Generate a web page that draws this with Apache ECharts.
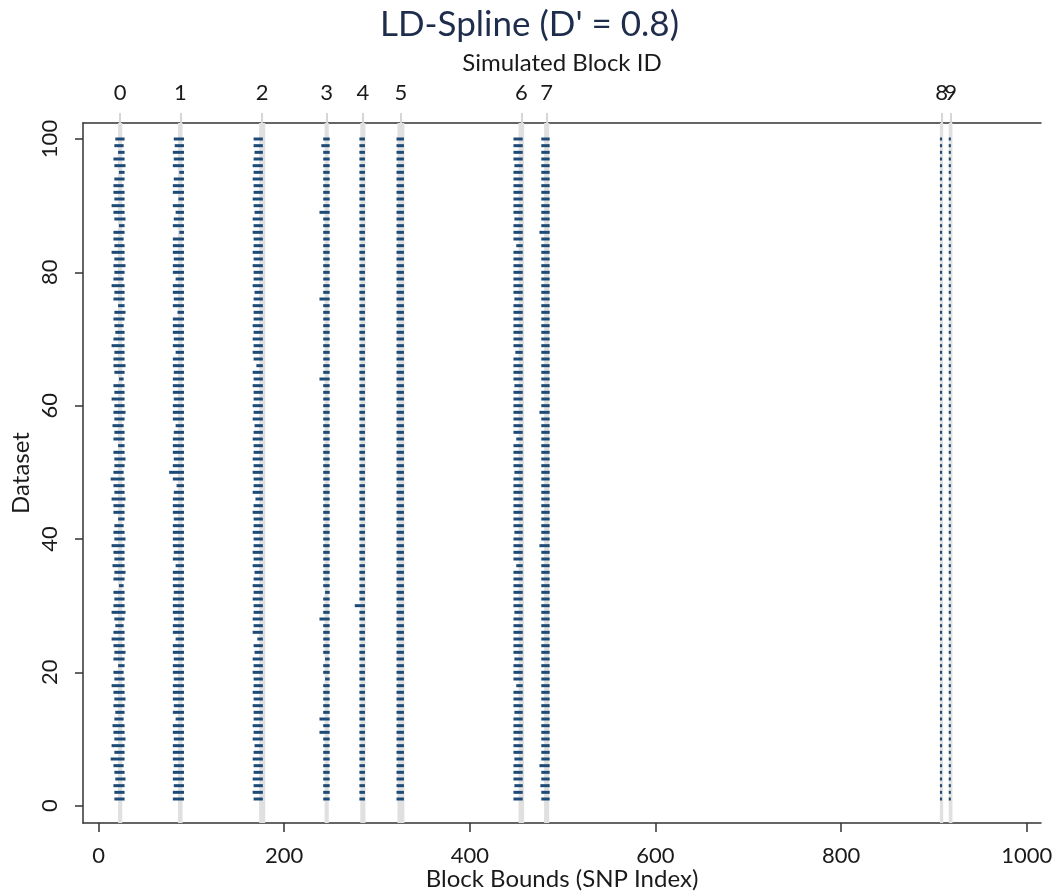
<!DOCTYPE html>
<html>
<head>
<meta charset="utf-8">
<title>LD-Spline (D' = 0.8)</title>
<script src="https://cdn.jsdelivr.net/npm/echarts@6/dist/echarts.min.js"></script>
<style>
  html, body { margin: 0; padding: 0; background: #ffffff; }
  #chart { width: 1059px; height: 892px; }
</style>
</head>
<body>
<div id="chart"></div>
<script>
// Simulated blocks: ID, true boundary band (SNP index) and label position
const blockIds = ['0', '1', '2', '3', '4', '5', '6', '7', '8', '9'];
const blockCenters = [23.3, 88, 176.3, 245.8, 284.8, 325.8, 455.5, 482.8, 908.3, 918];
const bandLo = [21, 85.5, 173, 243.5, 282, 322, 452.5, 480, 906.5, 916];
const bandHi = [25.5, 90.5, 179.5, 248, 287.5, 329.5, 458.5, 485.5, 910, 920];

// Axis ticks
const xTicks = [0, 200, 400, 600, 800, 1000];
const yTicks = [0, 20, 40, 60, 80, 100];

// Datasets 1..100
const datasets = [
  1,2,3,4,5,6,7,8,9,10,11,12,13,14,15,16,17,18,19,20,
  21,22,23,24,25,26,27,28,29,30,31,32,33,34,35,36,37,38,39,40,
  41,42,43,44,45,46,47,48,49,50,51,52,53,54,55,56,57,58,59,60,
  61,62,63,64,65,66,67,68,69,70,71,72,73,74,75,76,77,78,79,80,
  81,82,83,84,85,86,87,88,89,90,91,92,93,94,95,96,97,98,99,100
];

// Estimated block bounds per dataset (start / end SNP index), one pair of arrays per block
const start0 = [17,17,16,18,17,16,13,17,14,17, 16,15,17,18,16,17,16,14,17,16, 21,16,17,16,14,16,18,17,14,16, 17,16,22,16,17,15,17,16,14,17, 16,17,21,16,16,14,17,16,13,16, 17,17,16,21,16,17,15,17,16,17, 14,17,16,22,17,16,16,17,14,16, 18,17,16,17,21,16,17,14,16,17, 16,17,14,17,16,16,22,17,16,14, 17,16,16,17,22,17,16,21,17,18];
const end0   = [28,28,28,29,28,27,28,28,28,29, 28,28,27,28,28,29,28,28,28,27, 28,28,29,28,28,28,27,28,29,28, 28,28,27,28,29,28,28,28,28,29, 28,27,28,28,28,29,28,28,28,27, 28,29,28,28,28,28,27,28,29,28, 28,28,28,27,28,29,28,28,28,28, 28,27,28,29,28,28,28,28,27,28, 29,28,28,28,27,28,28,29,28,28, 28,28,27,28,28,29,28,28,27,28];

const start1 = [80,80,81,80,80,81,80,80,80,81, 80,80,83,80,81,80,80,80,81,80, 80,81,80,80,83,80,80,81,80,80, 80,81,80,80,80,83,80,81,80,80, 80,80,81,80,80,80,81,84,80,76, 80,81,80,80,80,81,83,80,80,80, 81,80,80,80,81,80,80,83,80,81, 80,80,80,85,80,81,80,80,83,80, 80,81,80,80,80,87,80,81,83,80, 86,80,80,81,87,80,81,80,82,81];
const end1   = [92,92,92,92,92,92,92,92,92,92, 92,92,92,92,92,92,92,92,92,92, 92,92,92,92,92,92,92,92,92,92, 92,92,92,92,92,92,92,92,92,92, 92,92,92,92,92,92,92,92,92,92, 92,92,92,92,92,92,92,92,92,92, 92,92,92,92,92,92,92,92,92,92, 92,92,92,92,92,92,92,92,92,92, 92,92,92,92,92,92,92,92,92,92, 92,92,92,92,92,92,92,92,92,92];

const start2 = [167,166,167,166,167,167,166,167,168,166, 167,166,167,167,166,167,166,167,167,166, 167,166,168,167,171,166,167,166,167,167, 166,167,166,167,168,166,167,166,167,167, 166,167,167,166,167,169,166,167,167,166, 167,166,167,167,166,167,168,166,167,166, 167,167,166,167,166,170,167,166,167,166, 167,166,167,167,166,167,168,166,167,167, 166,167,166,167,167,166,167,166,168,167, 166,167,167,166,167,166,167,168,167,167];
const end2   = [177,177,177,177,177,177,177,177,177,177, 177,177,177,177,177,177,177,177,177,177, 177,177,177,177,177,177,177,177,177,177, 177,177,177,177,177,177,177,177,177,177, 177,177,177,177,177,177,177,177,177,177, 177,177,177,177,177,177,177,177,177,177, 177,177,177,177,177,177,177,177,177,177, 177,177,177,177,177,177,177,177,177,177, 177,177,177,177,177,177,177,177,177,177, 177,177,177,177,177,177,177,177,177,177];

const start3 = [242,242,242,242,242,242,242,242,242,242, 238,242,238,242,242,242,242,242,244,242, 242,244,242,242,242,242,242,238,242,242, 242,244,242,242,242,242,242,242,242,242, 242,242,242,242,242,242,242,242,242,242, 242,242,242,242,242,242,242,242,242,242, 242,242,242,238,242,242,242,242,242,242, 242,242,242,242,242,238,242,242,242,242, 242,242,242,242,242,242,242,242,238,242, 242,242,242,242,242,242,242,242,240,242];
const end3   = [249,249,249,249,249,249,249,249,249,249, 249,249,249,249,249,249,249,249,249,249, 249,249,249,249,249,249,249,249,249,249, 249,249,249,249,249,249,249,249,249,249, 249,249,249,249,249,249,249,249,249,249, 249,249,249,249,249,249,249,249,249,249, 249,249,249,249,249,249,249,249,249,249, 249,249,249,249,249,249,249,249,249,249, 249,249,249,249,249,249,249,249,249,249, 249,249,249,249,249,249,249,249,249,249];

const start4 = [281,281,281,281,281,281,281,281,281,281, 281,281,281,281,281,281,281,281,281,281, 281,281,281,281,281,281,281,281,281,276, 281,281,281,281,281,281,281,281,281,281, 281,281,281,281,281,281,281,281,281,281, 281,281,281,281,281,281,281,281,281,281, 281,281,281,281,281,281,281,281,281,281, 281,281,281,281,281,281,281,281,281,281, 281,281,281,281,281,281,281,281,281,281, 281,281,281,281,281,281,281,281,281,281];
const end4   = [287,287,287,287,287,287,287,287,287,287, 287,287,287,287,287,287,287,287,287,287, 287,287,287,287,287,287,287,287,287,287, 287,287,287,287,287,287,287,287,287,287, 287,287,287,287,287,287,287,287,287,287, 287,287,287,287,287,287,287,287,287,287, 287,287,287,287,287,287,287,287,287,287, 287,287,287,287,287,287,287,287,287,287, 287,287,287,287,287,287,287,287,287,287, 287,287,287,287,287,287,287,287,287,287];

const start5 = [321,321,321,321,321,321,321,321,321,321, 321,321,321,321,321,321,321,321,321,321, 321,321,321,321,321,321,321,321,321,321, 321,321,321,321,321,321,321,321,321,321, 321,321,321,321,321,321,321,321,321,321, 321,321,321,321,321,321,321,321,321,321, 321,321,321,321,321,321,321,321,321,321, 321,321,321,321,321,321,321,321,321,321, 321,321,321,321,321,321,321,321,321,321, 321,321,321,321,321,321,321,321,321,321];
const end5   = [329,329,329,329,329,329,329,329,329,329, 329,329,329,329,329,329,329,329,329,329, 329,329,329,329,329,329,329,329,329,329, 329,329,329,329,329,329,329,329,329,329, 329,329,329,329,329,329,329,329,329,329, 329,329,329,329,329,329,329,329,329,329, 329,329,329,329,329,329,329,329,329,329, 329,329,329,329,329,329,329,329,329,329, 329,329,329,329,329,329,329,329,329,329, 329,329,329,329,329,329,329,329,329,329];

const start6 = [447,447,448,447,447,447,448,447,447,447, 447,447,447,448,447,447,447,450,447,447, 447,448,447,447,447,447,447,447,448,447, 447,447,447,447,447,450,447,447,447,447, 448,447,447,447,447,447,447,447,447,448, 447,447,447,447,450,447,447,447,447,447, 447,447,448,447,447,447,447,449,447,447, 447,447,447,447,447,448,447,447,447,447, 447,447,447,450,447,447,447,448,447,447, 447,447,447,447,447,448,447,447,447,447];
const end6   = [457,457,457,457,457,457,457,457,457,457, 457,457,457,457,457,457,457,457,457,457, 457,457,457,457,457,457,457,457,457,457, 457,457,457,457,457,457,457,457,457,457, 457,457,457,457,457,457,457,457,457,457, 457,457,457,457,457,457,457,457,457,457, 457,457,457,457,457,457,457,457,457,457, 457,457,457,457,457,457,457,457,457,457, 457,457,457,457,457,457,457,457,457,457, 457,457,457,457,457,457,457,457,457,457];

const start7 = [477,477,476,477,477,475,477,477,477,477, 477,477,477,477,477,477,477,477,477,477, 477,477,477,477,477,477,477,477,477,477, 477,477,477,477,477,477,477,477,475,477, 477,477,477,477,477,477,477,477,477,477, 477,477,477,477,477,477,477,477,475,477, 477,477,477,477,477,477,477,477,477,477, 477,477,477,477,477,477,477,477,477,477, 477,477,477,477,477,475,477,477,477,477, 477,477,477,477,477,477,477,477,477,477];
const end7   = [486,486,486,486,486,486,486,486,486,486, 486,486,486,486,486,486,486,486,486,486, 486,486,486,486,486,486,486,486,486,486, 486,486,486,486,486,486,486,486,486,486, 486,486,486,486,486,486,486,486,486,486, 486,486,486,486,486,486,486,486,486,486, 486,486,486,486,486,486,486,486,486,486, 486,486,486,486,486,486,486,486,486,486, 486,486,486,486,486,486,486,486,486,486, 486,486,486,486,486,486,486,486,486,486];

const start8 = [906.5,906.5,906.5,906.5,906.5,906.5,906.5,906.5,906.5,906.5, 906.5,906.5,906.5,906.5,906.5,906.5,906.5,906.5,906.5,906.5, 906.5,906.5,906.5,906.5,906.5,906.5,906.5,906.5,906.5,906.5, 906.5,906.5,906.5,906.5,906.5,906.5,906.5,906.5,906.5,906.5, 906.5,906.5,906.5,906.5,906.5,906.5,906.5,906.5,906.5,906.5, 906.5,906.5,906.5,906.5,906.5,906.5,906.5,906.5,906.5,906.5, 906.5,906.5,906.5,906.5,906.5,906.5,906.5,906.5,906.5,906.5, 906.5,906.5,906.5,906.5,906.5,906.5,906.5,906.5,906.5,906.5, 906.5,906.5,906.5,906.5,906.5,906.5,906.5,906.5,906.5,906.5, 906.5,906.5,906.5,906.5,906.5,906.5,906.5,906.5,906.5,906.5];
const end8   = [908.8,908.8,908.8,908.8,908.8,908.8,908.8,908.8,908.8,908.8, 908.8,908.8,908.8,908.8,908.8,908.8,908.8,908.8,908.8,908.8, 908.8,908.8,908.8,908.8,908.8,908.8,908.8,908.8,908.8,908.8, 908.8,908.8,908.8,908.8,908.8,908.8,908.8,908.8,908.8,908.8, 908.8,908.8,908.8,908.8,908.8,908.8,908.8,908.8,908.8,908.8, 908.8,908.8,908.8,908.8,908.8,908.8,908.8,908.8,908.8,908.8, 908.8,908.8,908.8,908.8,908.8,908.8,908.8,908.8,908.8,908.8, 908.8,908.8,908.8,908.8,908.8,908.8,908.8,908.8,908.8,908.8, 908.8,908.8,908.8,908.8,908.8,908.8,908.8,908.8,908.8,908.8, 908.8,908.8,908.8,908.8,908.8,908.8,908.8,908.8,908.8,908.8];

const start9 = [916,916,916,916,916,916,916,916,916,916, 916,916,916,916,916,916,916,916,916,916, 916,916,916,916,916,916,916,916,916,916, 916,916,916,916,916,916,916,916,916,916, 916,916,916,916,916,916,916,916,916,916, 916,916,916,916,916,916,916,916,916,916, 916,916,916,916,916,916,916,916,916,916, 916,916,916,916,916,916,916,916,916,916, 916,916,916,916,916,916,916,916,916,916, 916,916,916,916,916,916,916,916,916,916];
const end9   = [918.3,918.3,918.3,918.3,918.3,918.3,918.3,918.3,918.3,918.3, 918.3,918.3,918.3,918.3,918.3,918.3,918.3,918.3,918.3,918.3, 918.3,918.3,918.3,918.3,918.3,918.3,918.3,918.3,918.3,918.3, 918.3,918.3,918.3,918.3,918.3,918.3,918.3,918.3,918.3,918.3, 918.3,918.3,918.3,918.3,918.3,918.3,918.3,918.3,918.3,918.3, 918.3,918.3,918.3,918.3,918.3,918.3,918.3,918.3,918.3,918.3, 918.3,918.3,918.3,918.3,918.3,918.3,918.3,918.3,918.3,918.3, 918.3,918.3,918.3,918.3,918.3,918.3,918.3,918.3,918.3,918.3, 918.3,918.3,918.3,918.3,918.3,918.3,918.3,918.3,918.3,918.3, 918.3,918.3,918.3,918.3,918.3,918.3,918.3,918.3,918.3,918.3];

const starts = [start0, start1, start2, start3, start4, start5, start6, start7, start8, start9];
const ends = [end0, end1, end2, end3, end4, end5, end6, end7, end8, end9];

// Build [start, end, dataset] rows for the interval series
const boundRows = [];
starts.forEach(function (s, b) {
  datasets.forEach(function (d, i) {
    boundRows.push([s[i], ends[b][i], d]);
  });
});
const bandRows = bandLo.map(function (lo, i) { return [lo, bandHi[i]]; });

const FONT = 'Lato, "Open Sans", sans-serif';
const TEXT = '#1a1a1a';
const AXIS = '#333333';
const X_MIN = -16.8, X_MAX = 1015.4;
const Y_MIN = -2.6, Y_MAX = 102.4;

const plain = function (v) { return String(v); };
const blockLabel = function (v) {
  const i = blockCenters.findIndex(function (c) { return Math.abs(c - v) < 0.01; });
  return i >= 0 ? blockIds[i] : '';
};
// Block 9 sits right next to block 8, so its label is placed by a separate top axis
const lastBlock = blockCenters.length - 1;
const topLabelValuesA = blockCenters.slice(0, lastBlock);
const topLabelValuesB = blockCenters.slice(lastBlock);

const chart = echarts.init(document.getElementById('chart'), null, { renderer: 'canvas' });

const topAxisBase = {
  type: 'value', position: 'top', min: X_MIN, max: X_MAX,
  axisLine: { show: true, onZero: false, lineStyle: { color: AXIS, width: 1.5 } },
  splitLine: { show: false }
};

chart.setOption({
  backgroundColor: '#ffffff',
  animation: false,
  title: {
    text: "LD-Spline (D' = 0.8)",
    left: 'center',
    top: 2,
    textStyle: { fontFamily: FONT, fontSize: 35, fontWeight: 'normal', color: '#1f2d4d' }
  },
  grid: { left: 83, right: 18, top: 123, bottom: 69, containLabel: false, outerBoundsMode: 'none' },
  xAxis: [
    {
      type: 'value', position: 'bottom', min: X_MIN, max: X_MAX,
      name: 'Block Bounds (SNP Index)', nameLocation: 'middle', nameGap: 44, nameMoveOverlap: false,
      nameTextStyle: { fontFamily: FONT, fontSize: 24, color: TEXT },
      axisLine: { show: true, onZero: false, lineStyle: { color: AXIS, width: 1.5 } },
      axisTick: { show: true, customValues: xTicks, length: 9, lineStyle: { color: AXIS, width: 1.5 } },
      axisLabel: { customValues: xTicks, formatter: plain, margin: 22, fontFamily: FONT, fontSize: 22, color: TEXT },
      splitLine: { show: false }
    },
    Object.assign({}, topAxisBase, {
      name: 'Simulated Block ID', nameLocation: 'middle', nameGap: 48, nameMoveOverlap: false,
      nameTextStyle: { fontFamily: FONT, fontSize: 24, color: TEXT },
      axisTick: { show: true, customValues: blockCenters, length: 10, lineStyle: { color: '#d6d6d6', width: 2 } },
      axisLabel: {
        customValues: topLabelValuesA, hideOverlap: false, margin: 19,
        fontFamily: FONT, fontSize: 22, color: TEXT, formatter: blockLabel
      }
    }),
    Object.assign({}, topAxisBase, {
      axisLine: { show: false },
      axisTick: { show: false },
      axisLabel: {
        customValues: topLabelValuesB, hideOverlap: false, margin: 19,
        fontFamily: FONT, fontSize: 22, color: TEXT, formatter: blockLabel
      }
    })
  ],
  yAxis: {
    type: 'value', min: Y_MIN, max: Y_MAX,
    name: 'Dataset', nameLocation: 'middle', nameGap: 50, nameRotate: 90, nameMoveOverlap: false,
    nameTextStyle: { fontFamily: FONT, fontSize: 24, color: TEXT },
    axisLine: { show: true, onZero: false, lineStyle: { color: AXIS, width: 1.5 } },
    axisTick: { show: true, customValues: yTicks, length: 8, lineStyle: { color: AXIS, width: 1.5 } },
    axisLabel: { customValues: yTicks, formatter: plain, rotate: 90, margin: 22, fontFamily: FONT, fontSize: 22, color: TEXT },
    splitLine: { show: false }
  },
  series: [
    {
      // light grey bands marking the simulated block boundaries
      type: 'custom',
      xAxisIndex: 0, yAxisIndex: 0,
      silent: true,
      z: 1,
      data: bandRows,
      encode: { x: [0, 1] },
      renderItem: function (params, api) {
        const cs = params.coordSys;
        const a = api.coord([api.value(0), Y_MAX]);
        const b = api.coord([api.value(1), Y_MAX]);
        return {
          type: 'rect',
          shape: { x: a[0], y: cs.y, width: Math.max(b[0] - a[0], 1), height: cs.height },
          style: { fill: '#e0e0e0' }
        };
      }
    },
    {
      // estimated block bounds, one horizontal dash per dataset and block
      type: 'custom',
      xAxisIndex: 0, yAxisIndex: 0,
      silent: true,
      z: 2,
      data: boundRows,
      encode: { x: [0, 1], y: 2 },
      renderItem: function (params, api) {
        const p1 = api.coord([api.value(0), api.value(2)]);
        const p2 = api.coord([api.value(1), api.value(2)]);
        return {
          type: 'line',
          shape: { x1: p1[0], y1: p1[1], x2: p2[0], y2: p2[1] },
          style: { stroke: '#1d4a76', lineWidth: 3, lineCap: 'butt' }
        };
      }
    }
  ]
});
</script>
</body>
</html>
